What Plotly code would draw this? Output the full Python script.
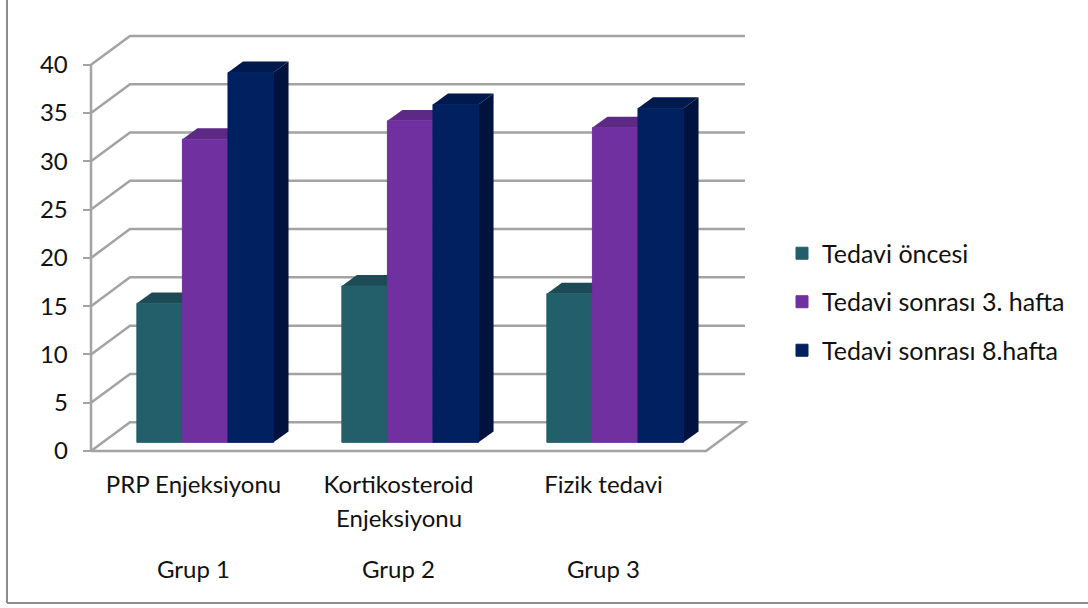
import plotly.graph_objects as go

categories = ["PRP Enjeksiyonu", "Kortikosteroid", "Fizik tedavi"]
second_lines = ["", "Enjeksiyonu", ""]
groups = ["Grup 1", "Grup 2", "Grup 3"]
series_names = ["Tedavi öncesi", "Tedavi sonrası 3. hafta", "Tedavi sonrası 8.hafta"]
before = [14.4, 16.2, 15.4]
week3 = [31.4, 33.3, 32.6]
week8 = [38.3, 35.0, 34.6]
y_ticks = [0, 5, 10, 15, 20, 25, 30, 35, 40]

front = ["#235F6B", "#7030A0", "#002060"]
top = ["#1C4A55", "#5C2A84", "#001A4E"]
side = ["#163C46", "#4A2270", "#00133F"]
GRID = "#A3A3A3"
FONT = "Lato, Carlito, sans-serif"
INK = "#111111"

W, H = 1088, 608
PX_X, PX_Y = 205.0, 9.72     # pixels per category / per value
X0, Y0 = 91.0, 454.0         # pixel position of the axes origin
WALL_DX, WALL_DY = 39 / PX_X, 29 / PX_Y
BAR_SHIFT_X, BAR_BASE = 11.7 / PX_X, 8.7 / PX_Y
BAR_DX, BAR_DY = 15 / PX_X, 11 / PX_Y
BAR_W = 2 / 9

xr = [-0.04, 3.23]
yr = [-1.0, 44.0]
xdom = [(X0 + xr[0] * PX_X) / W, (X0 + xr[1] * PX_X) / W]
ydom = [(H - (Y0 - yr[0] * PX_Y)) / H, (H - (Y0 - yr[1] * PX_Y)) / H]

fig = go.Figure()
shapes = []


def poly(pts, color):
    path = "M " + " L ".join(f"{x:.4f} {y:.4f}" for x, y in pts) + " Z"
    return dict(type="path", path=path, xref="x", yref="y", layer="below",
                fillcolor=color, line=dict(width=0))


def gline(pts):
    path = "M " + " L ".join(f"{x:.4f} {y:.4f}" for x, y in pts)
    return dict(type="path", path=path, xref="x", yref="y", layer="below",
                line=dict(color=GRID, width=2.5))


# chart frame (left and bottom edges)
for x0, y0, x1, y1 in [(7 / W, 1.0, 7 / W, 1 / H), (7 / W, 1 / H, 1.0, 1 / H)]:
    shapes.append(dict(type="line", xref="paper", yref="paper", x0=x0, y0=y0, x1=x1, y1=y1,
                       layer="below", line=dict(color="#8C8C8C", width=2)))

# walls
for v in y_ticks:
    if v == 0:
        shapes.append(gline([(0, 0), (3, 0), (3 + WALL_DX, WALL_DY), (WALL_DX, WALL_DY), (0, 0)]))
    else:
        shapes.append(gline([(0, v), (WALL_DX, v + WALL_DY), (3 + WALL_DX, v + WALL_DY)]))
shapes.append(gline([(0, 0), (0, y_ticks[-1])]))

# depth faces of the bars, taken from the data
for s, values in enumerate([before, week3, week8]):
    for i, v in enumerate(values):
        left = i + 0.5 + BAR_SHIFT_X + (s - 1.5) * BAR_W
        right = left + BAR_W
        ytop = BAR_BASE + v
        shapes.append(poly([(left, ytop), (left + BAR_DX, ytop + BAR_DY),
                            (right + BAR_DX, ytop + BAR_DY), (right, ytop)], top[s]))
        shapes.append(poly([(right, BAR_BASE), (right + BAR_DX, BAR_BASE + BAR_DY),
                            (right + BAR_DX, ytop + BAR_DY), (right, ytop)], side[s]))

# front faces
centers = [i + 0.5 + BAR_SHIFT_X for i in range(3)]
for s, values in enumerate([before, week3, week8]):
    fig.add_trace(go.Bar(
        x=centers, y=values, base=[BAR_BASE] * 3, name=series_names[s],
        legendgroup=series_names[s],
        marker=dict(color=front[s], line=dict(color=front[s], width=1)),
    ))

annotations = []
for i in range(3):
    if second_lines[i]:
        annotations.append(dict(x=i + 0.5, y=(H - 521) / H, xref="x", yref="paper", text=second_lines[i],
                                xanchor="center", yanchor="middle", showarrow=False,
                                font=dict(family=FONT, size=24, color=INK)))
    annotations.append(dict(x=i + 0.5, y=(H - 572) / H, xref="x", yref="paper", text=groups[i],
                            xanchor="center", yanchor="middle", showarrow=False,
                            font=dict(family=FONT, size=24, color=INK)))

fig.update_layout(
    width=W, height=H, margin=dict(l=0, r=0, t=0, b=0),
    paper_bgcolor="white", plot_bgcolor="rgba(0,0,0,0)",
    barmode="group", bargap=1 / 3, bargroupgap=0,
    shapes=shapes, annotations=annotations,
    font=dict(family=FONT, size=24, color=INK),
    xaxis=dict(domain=xdom, range=xr, showgrid=False, zeroline=False, showline=False,
               tickmode="array", tickvals=[i + 0.5 for i in range(3)], ticktext=categories,
               ticks="", ticklabelstandoff=7, tickfont=dict(size=24)),
    yaxis=dict(domain=ydom, range=yr, showgrid=False, zeroline=False, showline=False,
               tickmode="array", tickvals=y_ticks, ticks="inside", ticklen=8, tickwidth=2,
               tickcolor=GRID, ticklabelstandoff=14, tickfont=dict(size=24)),
    legend=dict(x=782 / W, xanchor="left", y=(H - 232) / H, yanchor="top",
                traceorder="grouped", tracegroupgap=13, itemclick=False, itemdoubleclick=False,
                font=dict(family=FONT, size=25, color=INK), bgcolor="rgba(0,0,0,0)"),
)

fig.write_html(
    "out.html",
    config={"displayModeBar": False},
    post_script="document.body.style.margin='0';"
                "var g=document.querySelector('.plotly-graph-div');"
                "g.style.position='fixed';g.style.top='0';g.style.left='0';",
)
